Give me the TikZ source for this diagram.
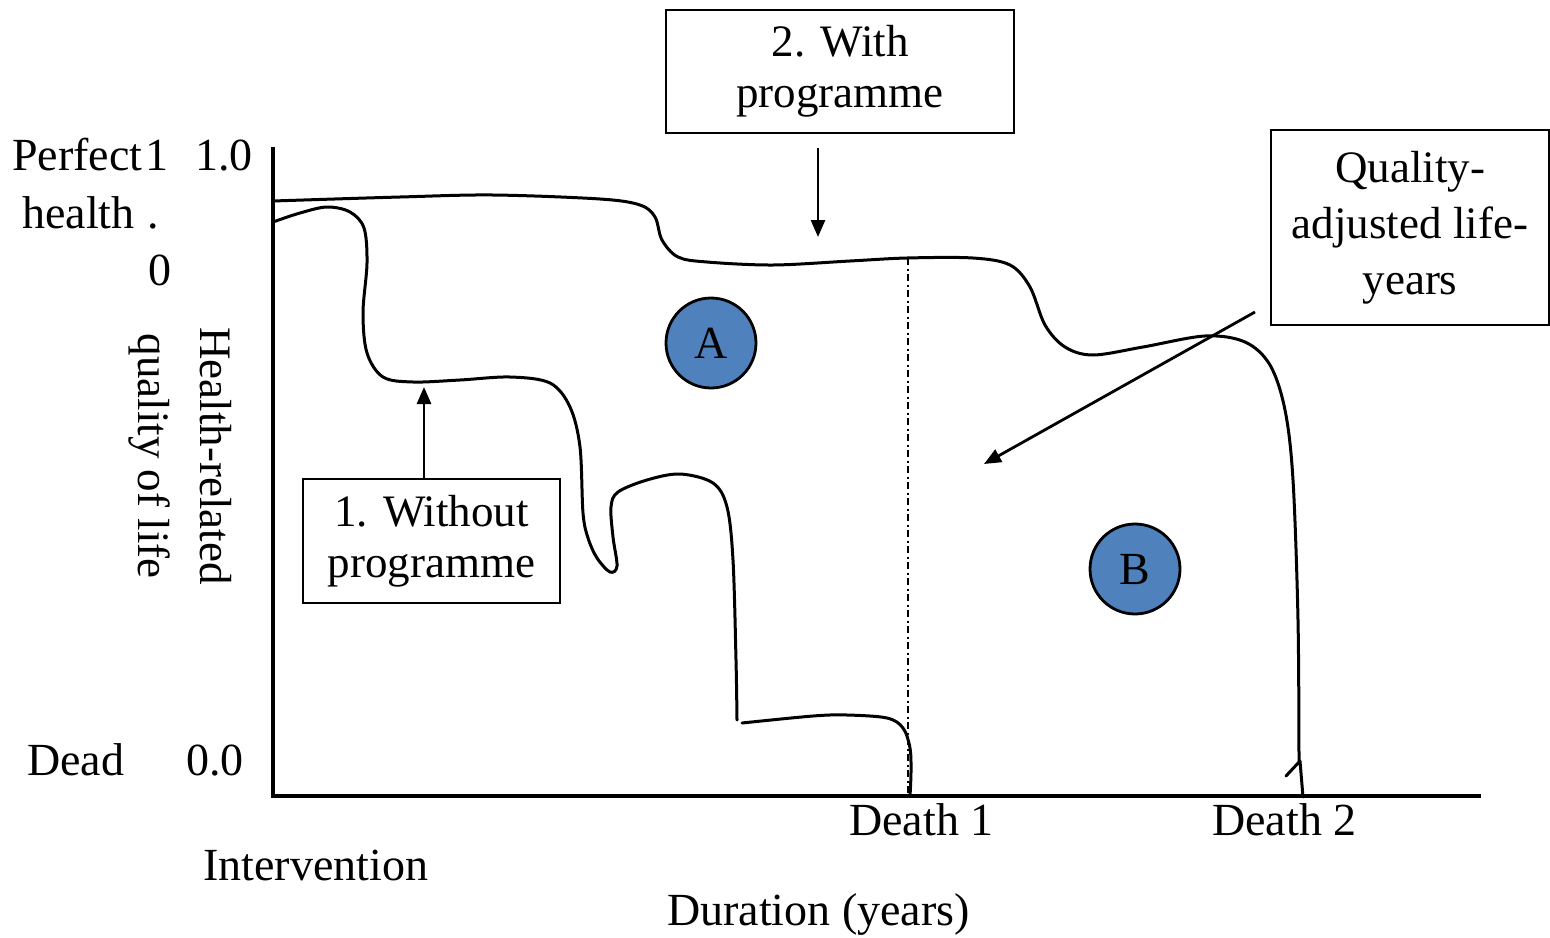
\documentclass[tikz,border=0pt]{standalone}
\usepackage{fontspec}
\setmainfont{Liberation Serif}
\usetikzlibrary{arrows.meta}
\definecolor{qblue}{RGB}{79,129,189}
\begin{document}
\begin{tikzpicture}[x=1pt,y=-1pt,
  lbl/.style={inner sep=0pt, font=\fontsize{46}{52}\selectfont},
  boxa/.style={draw, line width=2.8pt, align=center, inner sep=0pt, font=\fontsize{45}{51}\selectfont},
  boxq/.style={draw, line width=2.8pt, align=center, inner sep=0pt, font=\fontsize{45}{56}\selectfont},
  curve/.style={line width=3pt, line join=round, line cap=round},
  axis/.style={line width=3.2pt},
  arr/.style={line width=2.8pt, -{Triangle[length=17pt,width=14pt]}},
  circ/.style={circle, draw, line width=2.8pt, fill=qblue, minimum size=90pt, inner sep=0pt, font=\fontsize{46}{52}\selectfont},
  dd/.style={line width=2.8pt, dash pattern=on 7pt off 3.5pt on 2pt off 3.5pt}]
\useasboundingbox (0,0) rectangle (1550,937);

% axes
\coordinate (O) at (273,796);
\coordinate (ytop) at (273,147);
\coordinate (xend) at (1481,796);
\draw[axis] (ytop) -- (O) -- (xend);

% axis labels
\node[lbl, anchor=base west] (perf) at (12,170) {Perfect};
\node[lbl, anchor=base] (one) at (157,170) {1};
\node[lbl, anchor=base west] (onezero) at (195,170) {1.0};
\node[lbl, anchor=base west] (health) at (22,228) {health};
\node[lbl, anchor=base] (dot) at (153,228) {.};
\node[lbl, anchor=base] (zero) at (160,285) {0};
\node[lbl, anchor=base west] (dead) at (27,775) {Dead};
\node[lbl, anchor=base west] (zz) at (186,775) {0.0};
\node[lbl, anchor=base west] (interv) at (203,880) {Intervention};
\node[lbl, anchor=base west] (dur) at (667,925) {Duration (years)};
\node[lbl, anchor=base west] (d1) at (849,835) {Death 1};
\node[lbl, anchor=base west] (d2) at (1212,835) {Death 2};
\node[lbl, rotate=-90, align=center, font=\fontsize{45}{62}\selectfont] (hrql) at (180,456) {Health-related\\quality of life};

% boxes
\node[boxa, minimum width=348pt, minimum height=123pt] (box2) at (840,71.5) {2. With\\programme};
\node[boxq, minimum width=278pt, minimum height=195pt] (boxq) at (1410,227.5) {Quality-\\adjusted life-\\years};
\node[boxa, minimum width=257pt, minimum height=124pt] (box1) at (431.5,541) {1. Without\\programme};

% dash-dot line at death 1
\coordinate (dtop) at (908,258);
\coordinate (dbot) at (908,796);
\draw[dd] (dtop) -- (dbot);

% curve 2 : with programme
\draw[curve] plot[smooth, tension=0.55] coordinates {
 (273,201) (400,197) (493,195) (600,199) (640,205) (655,217) (662,240) (678,257)
 (707,262) (773,265) (850,261) (907,258) (973,258) (1010,265) (1030,287) (1045,325)
 (1065,347) (1093,355) (1143,347) (1205,336) (1245,342) (1270,365) (1285,410)
 (1293,480) (1298,620) (1299,762)};
\draw[curve] (1286,776) -- (1300,761) -- (1303,797);

% curve 1 : without programme
\draw[curve] plot[smooth, tension=0.55] coordinates {
 (273,222) (300,213) (327,207) (350,212) (364,228) (367,263) (363,313) (367,353)
 (383,377) (413,382) (460,380) (510,377) (550,383) (570,407) (580,447) (583,513)
 (588,538) (597,558) (610,572) (617,566) (613,537) (611,507) (618,492) (647,480)
 (680,474) (713,483) (727,507) (733,560) (736,660) (737,720)};
\draw[curve] plot[smooth, tension=0.55] coordinates {
 (742,723) (813,716) (847,715) (887,718) (903,728) (910,748) (911,772) (910,796)};

% circles
\node[circ] (A) at (711,343) {A};
\node[circ] (B) at (1135,569) {B};

% arrows
\coordinate (a2s) at (818,148);
\coordinate (a2e) at (818,237);
\draw[arr] (a2s) -- (a2e);
\coordinate (a1s) at (424,479);
\coordinate (a1e) at (424,387);
\draw[arr] (a1s) -- (a1e);
\coordinate (aqs) at (1255,312);
\coordinate (aqe) at (984,464);
\draw[arr] (aqs) -- (aqe);
\end{tikzpicture}
\end{document}
